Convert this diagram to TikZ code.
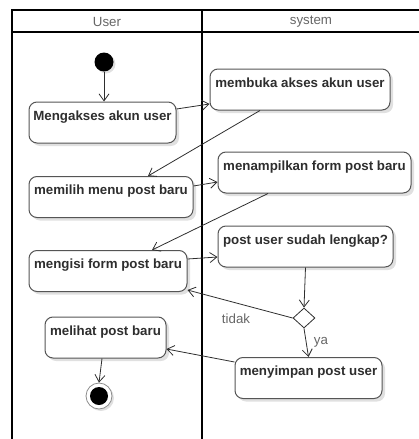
\documentclass[tikz,border=0pt]{standalone}
\usepackage{fontspec}
\setmainfont{Liberation Sans}
\usetikzlibrary{shapes.geometric,arrows.meta,shadows}
\definecolor{txt}{HTML}{2E2E2E}
\definecolor{bord}{HTML}{555555}
\definecolor{hdr}{HTML}{666666}
\tikzset{
  act/.style={draw=bord, line width=1pt, rounded corners=8pt, fill=white,
    font=\fontsize{13.3}{15}\selectfont\bfseries, text=txt,
    inner xsep=4pt, inner ysep=4pt, text height=14pt, text depth=19pt,
    drop shadow={shadow xshift=3pt, shadow yshift=-3pt, fill=black!12, opacity=1}},
  flow/.style={draw=txt, line width=0.8pt, -{Straight Barb[length=7pt,width=10pt]}},
  lane/.style={draw=black, line width=1.6pt},
  lbl/.style={font=\fontsize{13.3}{15}\selectfont, text=hdr},
}
\begin{document}
\begin{tikzpicture}[x=1pt,y=-1pt]
\useasboundingbox (0,0) rectangle (419,439);
% swimlanes
\draw[lane] (12,445) -- (12,10) -- (425,10);
\draw[lane] (12,32) -- (425,32);
\draw[lane] (202,10) -- (202,445);
\node[lbl] (hu) at (107,21.5) {User};
\node[lbl] (hs) at (311,21.5) {system};
% nodes
\node[circle, fill=black, minimum size=19pt, inner sep=0pt,
  drop shadow={shadow xshift=2pt, shadow yshift=-2pt, fill=black!12, opacity=1}] (start) at (104,62) {};
\node[act, minimum width=147pt] (n1) at (102.5,122.5) {Mengakses akun user};
\node[act, minimum width=180pt] (n2) at (300,89.5) {membuka akses akun user};
\node[act, minimum width=164pt] (n3) at (111,197) {memilih menu post baru};
\node[act, minimum width=193pt] (n4) at (314.5,172.5) {menampilkan form post baru};
\node[act, minimum width=158pt] (n5) at (108,271) {mengisi form post baru};
\node[act, minimum width=175pt] (n6) at (305.5,246.5) {post user sudah lengkap?};
\node[diamond, draw=txt, fill=white, line width=0.8pt, minimum width=22pt, minimum height=20pt, inner sep=0pt] (d) at (304,318) {};
\node[act, minimum width=147pt] (n7) at (308.5,378) {menyimpan post user};
\node[act, minimum width=121pt] (n8) at (105.5,337.5) {melihat post baru};
\node[circle, draw=black!45, line width=0.8pt, fill=white, minimum size=26pt, inner sep=0pt,
  drop shadow={shadow xshift=2pt, shadow yshift=-2pt, fill=black!12, opacity=1}] (fin) at (99,396) {};
\node[circle, fill=black, minimum size=18pt, inner sep=0pt] (fini) at (fin) {};
% connectors
\draw[flow] (start) -- (start |- n1.north);
\draw[flow] ([yshift=13.5pt]n1.east) -- ([yshift=-14.5pt]n2.west);
\draw[flow] ([xshift=-40pt]n2.south) -- ([xshift=37pt]n3.north);
\draw[flow] ([yshift=11pt]n3.east) -- ([yshift=-9.5pt]n4.west);
\draw[flow] ([xshift=-46.5pt]n4.south) -- ([xshift=44pt]n5.north);
\draw[flow] ([yshift=12pt]n5.east) -- ([yshift=-10.5pt]n6.west);
\draw[flow] (n6.south) -- (d.north);
\draw[flow] (d.west) -- ([yshift=-19pt]n5.east);
\draw[flow] (d.south) -- (n7.north);
\draw[flow] ([yshift=16pt]n7.west) -- ([yshift=-11.5pt]n8.east);
\draw[flow] ([xshift=-3.5pt]n8.south) -- (fin.north);
% guard labels
\node[lbl] (ltidak) at (236,319) {tidak};
\node[lbl] (lya) at (321,342) {ya};
\end{tikzpicture}
\end{document}
